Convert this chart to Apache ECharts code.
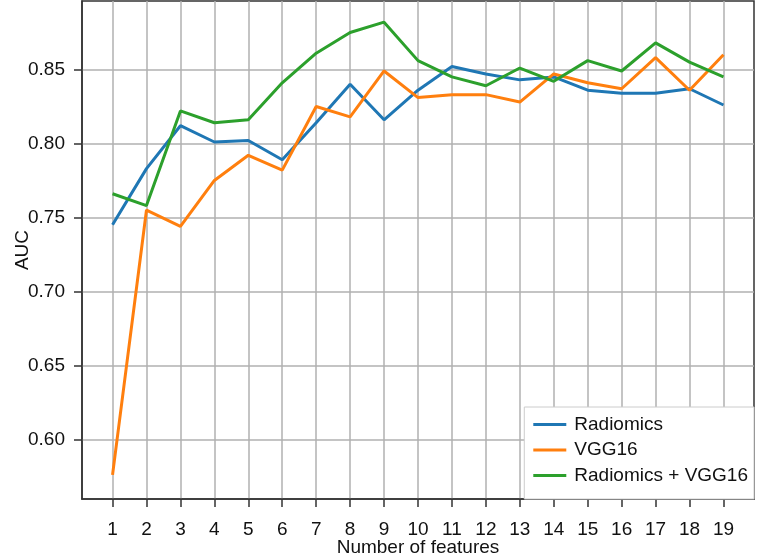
<!DOCTYPE html>
<html>
<head>
<meta charset="utf-8">
<script src="https://cdn.jsdelivr.net/npm/echarts@6/dist/echarts.min.js"></script>
<style>
  html, body { margin: 0; padding: 0; background: #fff; }
  #main { width: 758px; height: 560px; }
</style>
</head>
<body>
<div id="main"></div>
<script>
var features = [1, 2, 3, 4, 5, 6, 7, 8, 9, 10, 11, 12, 13, 14, 15, 16, 17, 18, 19];
var radiomics = [0.745, 0.783, 0.812, 0.801, 0.802, 0.789, 0.814, 0.840, 0.816, 0.836, 0.852, 0.847, 0.843, 0.845, 0.836, 0.834, 0.834, 0.837, 0.826];
var vgg16 = [0.576, 0.755, 0.744, 0.775, 0.792, 0.782, 0.825, 0.818, 0.849, 0.831, 0.833, 0.833, 0.828, 0.847, 0.841, 0.837, 0.858, 0.836, 0.860];
var combined = [0.766, 0.758, 0.822, 0.814, 0.816, 0.841, 0.861, 0.875, 0.882, 0.856, 0.845, 0.839, 0.851, 0.842, 0.856, 0.849, 0.868, 0.855, 0.845];
var yTicks = [0.60, 0.65, 0.70, 0.75, 0.80, 0.85];

function pairs(vals) {
    return features.map(function (f, i) { return [f, vals[i]]; });
}

var font = "'Liberation Sans', Arial, sans-serif";
var gridLine = {show: true, lineStyle: {color: '#b0b0b0', width: 1.5}};

var myChart = echarts.init(document.getElementById('main'));
var option = {
    backgroundColor: '#fff',
    animation: false,
    textStyle: {fontFamily: font},
    grid: {
        left: 82, right: 4, top: 1, bottom: 61,
        outerBoundsMode: 'none',
        containLabel: false,
        show: true,
        borderColor: '#333',
        borderWidth: 1.5
    },
    legend: {
        orient: 'vertical',
        right: 4,
        bottom: 61,
        padding: [8, 6, 14, 9],
        itemGap: 6.5,
        itemWidth: 33,
        itemHeight: 3,
        icon: 'rect',
        backgroundColor: '#fff',
        borderColor: '#cccccc',
        borderWidth: 1,
        textStyle: {fontSize: 19, lineHeight: 19, color: '#111', fontFamily: font, padding: [0, 0, 0, 3]},
        data: ['Radiomics', 'VGG16', 'Radiomics + VGG16']
    },
    xAxis: {
        type: 'value',
        min: 0.1,
        max: 19.9,
        name: 'Number of features',
        nameLocation: 'middle',
        nameGap: 39,
        nameMoveOverlap: false,
        nameTextStyle: {fontSize: 19, color: '#111', fontFamily: font},
        axisLine: {show: true, lineStyle: {color: '#333', width: 1.5}},
        axisTick: {show: true, length: 8, customValues: features, lineStyle: {color: '#333', width: 1.5}},
        axisLabel: {customValues: features, margin: 21, fontSize: 19, color: '#111', fontFamily: font},
        splitLine: gridLine
    },
    yAxis: {
        type: 'value',
        min: 0.5597,
        max: 0.8963,
        name: 'AUC',
        nameLocation: 'middle',
        nameGap: 50,
        nameMoveOverlap: false,
        nameTextStyle: {fontSize: 19, color: '#111', fontFamily: font},
        axisLine: {show: true, lineStyle: {color: '#333', width: 1.5}},
        axisTick: {show: true, length: 8, customValues: yTicks, lineStyle: {color: '#333', width: 1.5}},
        axisLabel: {
            customValues: yTicks,
            margin: 17,
            fontSize: 19,
            color: '#111',
            fontFamily: font,
            formatter: function (v) { return v.toFixed(2); }
        },
        splitLine: gridLine
    },
    series: [
        {
            name: 'Radiomics',
            type: 'line',
            color: '#1f77b4',
            symbol: 'none',
            lineStyle: {width: 3},
            data: pairs(radiomics)
        },
        {
            name: 'VGG16',
            type: 'line',
            color: '#ff7f0e',
            symbol: 'none',
            lineStyle: {width: 3},
            data: pairs(vgg16)
        },
        {
            name: 'Radiomics + VGG16',
            type: 'line',
            color: '#2ca02c',
            symbol: 'none',
            lineStyle: {width: 3},
            data: pairs(combined)
        }
    ]
};

myChart.setOption(option);
</script>
</body>
</html>
